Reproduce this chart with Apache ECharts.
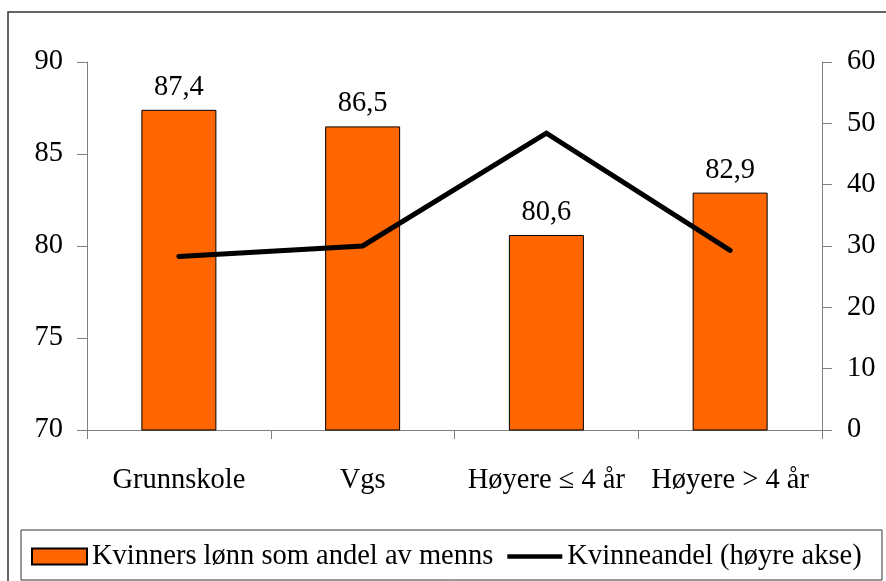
<!DOCTYPE html>
<html>
<head>
<meta charset="utf-8">
<script src="https://cdn.jsdelivr.net/npm/echarts@6/dist/echarts.min.js"></script>
<style>
  html, body {margin: 0; padding: 0; background: #fff;}
  #chart {width: 886px; height: 581px;}
</style>
</head>
<body>
<div id="chart"></div>
<script>
const categories = ["Grunnskole", "Vgs", "Høyere \u2264 4 år", "Høyere > 4 år"];
const wageShare = [87.4, 86.5, 80.6, 82.9];
const womenShare = [28.3, 30.0, 48.4, 29.3];
const wageName = "Kvinners lønn som andel av menns";
const shareName = "Kvinneandel (høyre akse)";

const FONT = "Liberation Serif";
const AXIS_GRAY = "#808080";

const chart = echarts.init(document.getElementById("chart"));

const textStyle = {fontFamily: FONT, fontSize: 28.5, color: "#000"};

chart.setOption({
  animation: false,
  textStyle: textStyle,
  grid: {left: 87, right: 64, top: 62, bottom: 151},
  graphic: [
    {
      type: "rect",
      shape: {x: 8, y: 12, width: 900, height: 600},
      style: {fill: "none", stroke: "#333", lineWidth: 1.5},
      silent: true
    },
    {
      type: "rect",
      shape: {x: 21, y: 530, width: 861, height: 50},
      style: {fill: "#fff", stroke: "#333", lineWidth: 1},
      silent: true,
      z: 0
    }
  ],
  legend: {
    left: 26,
    top: 537,
    itemWidth: 55,
    itemHeight: 16,
    itemGap: 14,
    textStyle: textStyle,
    data: [
      {name: wageName, icon: "rect"},
      {name: shareName, icon: "path://M0,0 L60,0 L60,5 L0,5 Z"}
    ]
  },
  xAxis: {
    type: "category",
    data: categories,
    axisLine: {lineStyle: {color: AXIS_GRAY, width: 1}},
    axisTick: {show: true, inside: false, length: 9, lineStyle: {color: AXIS_GRAY}},
    axisLabel: {margin: 36, interval: 0, ...textStyle},
    splitLine: {show: false}
  },
  yAxis: [
    {
      type: "value",
      min: 70,
      max: 90,
      interval: 5,
      axisLine: {show: true, lineStyle: {color: AXIS_GRAY, width: 1}},
      axisTick: {show: true, length: 10, lineStyle: {color: AXIS_GRAY}},
      axisLabel: {margin: 24, ...textStyle},
      splitLine: {show: false}
    },
    {
      type: "value",
      min: 0,
      max: 60,
      interval: 10,
      position: "right",
      axisLine: {show: true, lineStyle: {color: AXIS_GRAY, width: 1}},
      axisTick: {show: true, length: 10, lineStyle: {color: AXIS_GRAY}},
      axisLabel: {margin: 25, ...textStyle},
      splitLine: {show: false}
    }
  ],
  series: [
    {
      name: wageName,
      type: "bar",
      data: wageShare,
      yAxisIndex: 0,
      barWidth: 75,
      itemStyle: {color: "#ff6600", borderColor: "#000", borderWidth: 1},
      label: {
        show: true,
        position: "top",
        distance: 8,
        ...textStyle,
        formatter: p => String(p.value).replace(".", ",")
      }
    },
    {
      name: shareName,
      type: "line",
      data: womenShare,
      yAxisIndex: 1,
      symbol: "none",
      z: 5,
      lineStyle: {color: "#000", width: 5, cap: "round", join: "miter"},
      itemStyle: {color: "#000"}
    }
  ]
});
</script>
</body>
</html>
